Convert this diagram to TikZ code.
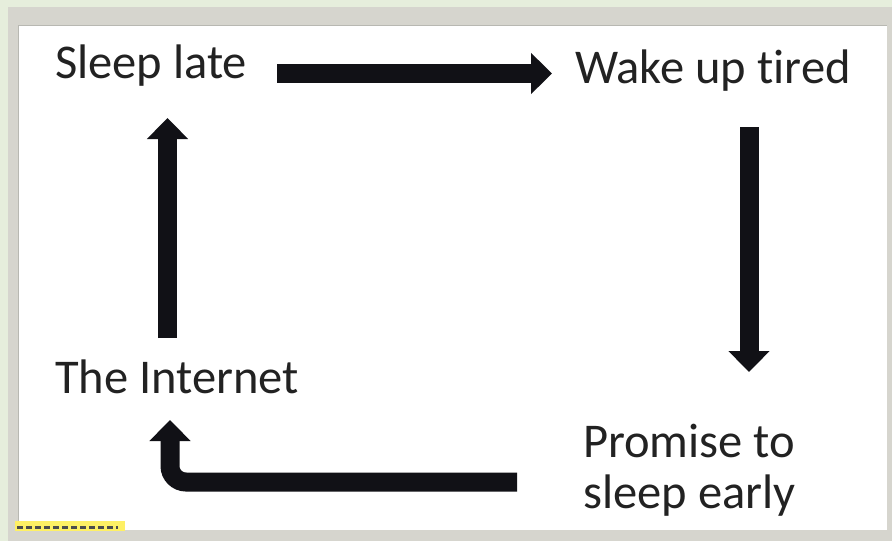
\documentclass[tikz,border=0pt]{standalone}
\usepackage{fontspec}
\setmainfont[Ligatures={TeX,NoCommon}]{Carlito}
\usetikzlibrary{arrows.meta}
\definecolor{bgout}{HTML}{E6EEDC}
\definecolor{frame}{HTML}{D6D5CE}
\definecolor{frameline}{HTML}{B8B8B2}
\definecolor{txt}{HTML}{222222}
\definecolor{arr}{HTML}{111116}
\tikzset{
  label text/.style={font=\fontsize{48.5}{51}\selectfont, text=txt, inner sep=0pt},
  fat arrow/.style={draw=arr, line width=19pt,
    -{Triangle[width=40pt,length=21pt]}},
}
\begin{document}
\begin{tikzpicture}[x=1pt,y=-1pt]
\useasboundingbox (0,0) rectangle (892,541);
\fill[bgout] (0,0) rectangle (892,541);
\fill[frame] (8,7) rectangle (892,541);
\fill[white] (18,25) rectangle (887,530);
\draw[frameline, line width=1pt] (18,25) -- (887,25);
\draw[frameline, line width=1pt] (18,25) -- (18,530);
\fill[yellow!90!orange!60] (15,521) rectangle (125,531);
\draw[black!70, line width=2.5pt, dash pattern=on 6pt off 3pt] (17,527.5) -- (118,527.5);

\node[label text, anchor=base west] (sleep) at (55,78) {Sleep late};
\node[label text, anchor=base west] (wake) at (575,83) {Wake up tired};
\node[label text, anchor=base west] (net) at (55,393) {The Internet};
\node[label text, anchor=base west] (prom) at (583,457) {Promise to};
\node[label text, anchor=base west] (early) at (583,508) {sleep early};

\coordinate (a1s) at (277,73.5);
\coordinate (a1e) at (552,73.5);
\coordinate (a2s) at (749,127);
\coordinate (a2e) at (749,372);
\coordinate (a3s) at (517,482);
\coordinate (a3c) at (170,482);
\coordinate (a3e) at (170,420);
\coordinate (a4s) at (167.5,338);
\coordinate (a4e) at (167.5,118);

\draw[fat arrow] (a1s) -- (a1e);
\draw[fat arrow] (a2s) -- (a2e);
\draw[fat arrow, rounded corners=16pt] (a3s) -- (a3c) -- (a3e);
\draw[fat arrow] (a4s) -- (a4e);
\end{tikzpicture}
\end{document}
